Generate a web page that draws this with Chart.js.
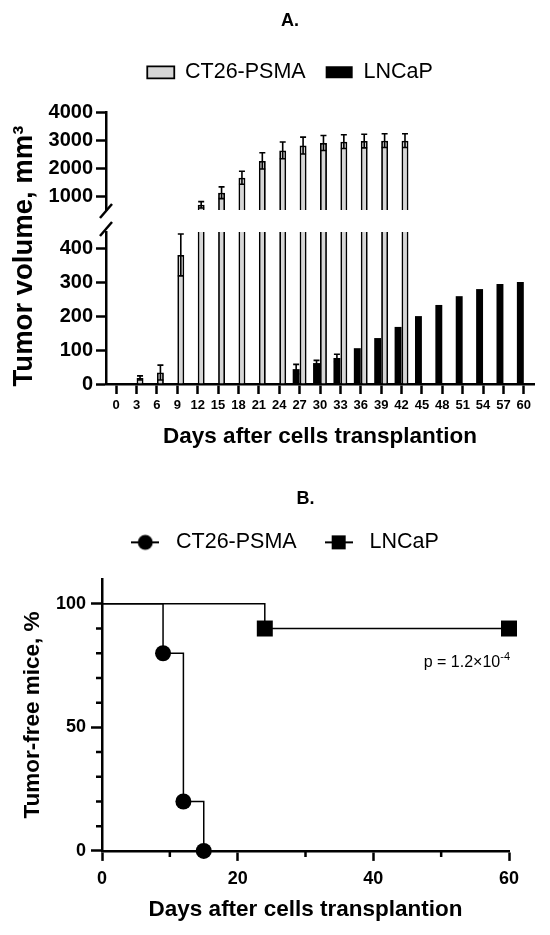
<!DOCTYPE html>
<html>
<head>
<meta charset="utf-8">
<script src="https://cdn.jsdelivr.net/npm/chart.js@4.4.1/dist/chart.umd.min.js"></script>
<style>
    body{ margin:0; background:#fff; }
    #wrap{ position:relative; width:550px; height:935px; }
    canvas{ position:absolute; left:0; }
    #volLow, #volHigh{ top:0; }
    #surv{ top:460px; }
</style>
</head>
<body>
<div id="wrap">
    <canvas id="volLow" width="550" height="460"></canvas>
    <canvas id="volHigh" width="550" height="225"></canvas>
    <canvas id="surv" width="550" height="475"></canvas>
</div>
<script>
// panel A - tumour volume (mean, SD)
const days = ['0','3','6','9','12','15','18','21','24','27','30','33','36','39','42','45','48','51','54','57','60'];
const ct26Volume = [0, 18, 34, 382, 686, 1115, 1653, 2256, 2630, 2804, 2895, 2944, 2965, 2979, 2980, null, null, null, null, null, null];
const ct26Sd = [0, 6, 22, 62, 115, 210, 230, 290, 300, 300, 270, 245, 245, 245, 245, null, null, null, null, null, null];
const lncapVolume = [0, 0, 0, 0, 0, 0, 0, 0, 0, 44, 62, 77, 106, 136, 169, 201, 234, 260, 281, 296, 302];
const lncapSd = [0, 0, 0, 0, 0, 0, 0, 0, 0, 14, 8, 11, 0, 0, 0, 0, 0, 0, 0, 0, 0];
const lowTicks = [0, 100, 200, 300, 400];
const highTicks = [1000, 2000, 3000, 4000];

// panel B - tumour-free mice (Kaplan-Meier)
const ctDays = [0, 9, 12, 15];
const ctFree = [100, 80, 20, 0];
const lnDays = [0, 24, 60];
const lnFree = [100, 90, 90];
const survXTicks = [0, 20, 40, 60];
const survXMinor = [10, 30, 50];
const survYTicks = [0, 50, 100];
const survYMinor = [10, 20, 30, 40, 60, 70, 80, 90];
const pText = 'p = 1.2\u00d710';
const pExp = '-4';
const pAt = [60, 77];

const FONT = "'Liberation Sans', Arial, Helvetica, sans-serif";
Chart.defaults.font.family = FONT;
Chart.defaults.color = '#000';


const errorBars = {
    id: 'errorBars',
    afterDatasetsDraw(chart){
        const ctx = chart.ctx;
        const area = chart.chartArea;
        const y = chart.scales.y;
        ctx.save();
        ctx.beginPath();
        ctx.rect(area.left, area.top, area.right - area.left, area.bottom - area.top);
        ctx.clip();
        ctx.strokeStyle = '#000';
        ctx.lineWidth = 1.6;
        chart.data.datasets.forEach(function(ds, di){
            const meta = chart.getDatasetMeta(di);
            meta.data.forEach(function(bar, i){
                const v = ds.data[i];
                const e = ds.sd[i];
                if(v == null || !e){ return; }
                const yt = y.getPixelForValue(v + e);
                const yb = y.getPixelForValue(v - e);
                ctx.beginPath();
                ctx.moveTo(bar.x, yt);
                ctx.lineTo(bar.x, yb);
                ctx.moveTo(bar.x - 3, yt);
                ctx.lineTo(bar.x + 3, yt);
                ctx.moveTo(bar.x - 3, yb);
                ctx.lineTo(bar.x + 3, yb);
                ctx.stroke();
            });
        });
        ctx.restore();
    }
};


const sideTitle = {
    id: 'sideTitle',
    afterDraw(chart, args, opts){
        const ctx = chart.ctx;
        const cy = opts.y !== undefined ? opts.y : (chart.chartArea.top + chart.chartArea.bottom) / 2;
        ctx.save();
        ctx.translate(opts.x, cy);
        ctx.rotate(-Math.PI / 2);
        ctx.font = 'bold ' + opts.size + 'px ' + FONT;
        ctx.fillStyle = '#000';
        ctx.textAlign = 'center';
        ctx.textBaseline = 'middle';
        ctx.fillText(opts.text, 0, 0);
        ctx.restore();
    }
};


const axisBreak = {
    id: 'axisBreak',
    afterDraw(chart){
        const ctx = chart.ctx;
        const x = chart.chartArea.left;
        const top = chart.chartArea.top;
        ctx.save();
        ctx.strokeStyle = '#000';
        ctx.lineWidth = 2.5;
        [top - 21, top - 3].forEach(function(cy){
            ctx.beginPath();
            ctx.moveTo(x - 6, cy + 7);
            ctx.lineTo(x + 6, cy - 7);
            ctx.stroke();
        });
        ctx.restore();
    }
};


const survExtras = {
    id: 'survExtras',
    afterDraw(chart){
        const ctx = chart.ctx;
        const xs = chart.scales.x;
        const ys = chart.scales.y;
        const a = chart.chartArea;
        ctx.save();
        ctx.strokeStyle = '#000';
        ctx.lineWidth = 2.5;
        ctx.beginPath();
        survXMinor.forEach(function(v){
            const px = xs.getPixelForValue(v);
            ctx.moveTo(px, a.bottom);
            ctx.lineTo(px, a.bottom + 6);
        });
        survYMinor.forEach(function(v){
            const py = ys.getPixelForValue(v);
            ctx.moveTo(a.left, py);
            ctx.lineTo(a.left - 6, py);
        });
        ctx.stroke();

        // p value, right aligned under the LNCaP end point
        const right = xs.getPixelForValue(pAt[0]) + 1;
        const base = ys.getPixelForValue(pAt[1]) + 6;
        ctx.fillStyle = '#000';
        ctx.textBaseline = 'alphabetic';
        ctx.textAlign = 'left';
        ctx.font = '11px ' + FONT;
        const w2 = ctx.measureText(pExp).width;
        ctx.font = '16px ' + FONT;
        const w1 = ctx.measureText(pText).width;
        ctx.fillText(pText, right - w1 - w2, base);
        ctx.font = '11px ' + FONT;
        ctx.fillText(pExp, right - w2, base - 7);
        ctx.restore();
    }
};


function barDatasets(){
    return [{
        label: 'LNCaP',
        data: lncapVolume,
        sd: lncapSd,
        backgroundColor: '#000',
        borderWidth: 0,
        clip: 0
    },{
        label: 'CT26-PSMA',
        data: ct26Volume,
        sd: ct26Sd,
        backgroundColor: '#d6d6d6',
        borderColor: '#000',
        borderWidth: 1.8,
        clip: 0
    }];
}


function axisGrid(len){
    return {
        drawOnChartArea: false,
        offset: false,
        tickLength: len,
        tickWidth: 2.5,
        tickColor: '#000'
    };
}


function fixedTicks(list){
    return function(scale){
        scale.ticks = list.map(v => ({value: v}));
    };
}


// upper part of the broken axis, with title and legend
new Chart(document.getElementById('volHigh'), {
    type: 'bar',
    data: {labels: days, datasets: barDatasets()},
    options: {
        responsive: false,
        animation: false,
        layout: {padding: {left: 46, right: 16, top: 0, bottom: 5}},
        datasets: {bar: {categoryPercentage: 0.68, barPercentage: 1}},
        scales: {
            x: {
                position: 'top',
                grid: {display: false},
                border: {display: false},
                ticks: {display: false},
                afterFit: s => { s.height = 19; }
            },
            y: {
                min: 500,
                max: 4000,
                afterBuildTicks: fixedTicks(highTicks),
                afterFit: s => { s.width = 60; },
                grid: axisGrid(10),
                border: {color: '#000', width: 2.5},
                ticks: {font: {size: 20, weight: 'bold'}, padding: 3, callback: v => String(v)}
            }
        },
        plugins: {
            title: {
                display: true,
                text: 'A.',
                font: {size: 18, weight: 'bold'},
                padding: {top: 10, bottom: 10}
            },
            legend: {
                labels: {
                    boxWidth: 27,
                    boxHeight: 12,
                    padding: 20,
                    font: {size: 21.5},
                    sort: (a, b) => b.datasetIndex - a.datasetIndex
                }
            },
            tooltip: {enabled: false}
        }
    },
    plugins: [errorBars]
});


// lower part of the broken axis with the day axis
new Chart(document.getElementById('volLow'), {
    type: 'bar',
    data: {labels: days, datasets: barDatasets()},
    options: {
        responsive: false,
        animation: false,
        layout: {padding: {left: 0, right: 16, top: 232, bottom: 5.4}},
        datasets: {bar: {categoryPercentage: 0.68, barPercentage: 1}},
        scales: {
            x: {
                z: 1,
                grid: axisGrid(10),
                border: {color: '#000', width: 2.5},
                ticks: {font: {size: 13, weight: 'bold'}, padding: 4, autoSkip: false, maxRotation: 0},
                title: {
                    display: true,
                    text: 'Days after cells transplantion',
                    font: {size: 22.5, weight: 'bold'},
                    padding: {top: 6, bottom: 4}
                }
            },
            y: {
                min: 0,
                max: 450,
                afterBuildTicks: fixedTicks(lowTicks),
                afterFit: s => { s.width = 106; },
                grid: axisGrid(10),
                border: {color: '#000', width: 2.5},
                ticks: {font: {size: 20, weight: 'bold'}, padding: 3, callback: v => String(v)}
            }
        },
        plugins: {
            legend: {display: false},
            tooltip: {enabled: false},
            sideTitle: {text: 'Tumor volume, mm\u00b3', x: 24, y: 256, size: 27.5}
        }
    },
    plugins: [errorBars, sideTitle, axisBreak]
});


function legendIcon(shape){
    const c = document.createElement('canvas');
    c.width = 28;
    c.height = 18;
    const g = c.getContext('2d');
    g.strokeStyle = '#000';
    g.fillStyle = '#000';
    g.lineWidth = 2;
    g.beginPath();
    g.moveTo(0, 9);
    g.lineTo(28, 9);
    g.stroke();
    if(shape === 'circle'){
        g.beginPath();
        g.arc(14, 9, 7.5, 0, Math.PI * 2);
        g.fill();
    }
    else{
        g.fillRect(7, 2, 14, 14);
    }
    return c;
}

const survIcons = [legendIcon('circle'), legendIcon('rect')];

function kmPoints(xs, ys){
    return xs.map((d, i) => ({x: d, y: ys[i]}));
}


new Chart(document.getElementById('surv'), {
    type: 'line',
    data: {
        datasets: [{
            label: 'CT26-PSMA',
            data: kmPoints(ctDays, ctFree),
            stepped: 'before',
            borderColor: '#000',
            borderWidth: 1.5,
            pointStyle: 'circle',
            pointRadius: c => c.dataIndex === 0 ? 0 : 8,
            pointBackgroundColor: '#000',
            pointBorderWidth: 0,
            clip: false
        },{
            label: 'LNCaP',
            data: kmPoints(lnDays, lnFree),
            stepped: 'before',
            borderColor: '#000',
            borderWidth: 1.5,
            pointStyle: 'rect',
            pointRadius: c => c.dataIndex === 0 ? 0 : 11.3,
            pointBackgroundColor: '#000',
            pointBorderWidth: 0,
            clip: false
        }]
    },
    options: {
        responsive: false,
        animation: false,
        layout: {padding: {left: 55, right: 41, top: 0, bottom: 7.5}},
        scales: {
            x: {
                type: 'linear',
                min: 0,
                max: 60,
                afterBuildTicks: fixedTicks(survXTicks),
                grid: axisGrid(10),
                border: {color: '#000', width: 2.5},
                ticks: {font: {size: 18, weight: 'bold'}, padding: 7},
                title: {
                    display: true,
                    text: 'Days after cells transplantion',
                    font: {size: 22.5, weight: 'bold'},
                    padding: {top: 0, bottom: 4}
                }
            },
            y: {
                min: 0,
                max: 110,
                afterBuildTicks: fixedTicks(survYTicks),
                afterFit: s => { s.width = 47; },
                grid: axisGrid(11),
                border: {color: '#000', width: 2.5},
                ticks: {font: {size: 18, weight: 'bold'}, padding: 5}
            },
            gap: {
                type: 'linear',
                position: 'top',
                grid: {display: false},
                border: {display: false},
                ticks: {display: false},
                afterFit: s => { s.height = 16; }
            }
        },
        plugins: {
            title: {
                display: true,
                text: 'B.',
                fullSize: false,
                font: {size: 18, weight: 'bold'},
                padding: {top: 28, bottom: 0}
            },
            legend: {
                labels: {
                    usePointStyle: true,
                    pointStyleWidth: 40,
                    padding: 22,
                    font: {size: 21.5},
                    generateLabels: function(chart){
                        const items = Chart.defaults.plugins.legend.labels.generateLabels(chart);
                        items.forEach(it => { it.pointStyle = survIcons[it.datasetIndex]; });
                        return items;
                    }
                }
            },
            tooltip: {enabled: false},
            sideTitle: {text: 'Tumor-free mice, %', x: 33, size: 22.5}
        }
    },
    plugins: [sideTitle, survExtras]
});
</script>
</body>
</html>
